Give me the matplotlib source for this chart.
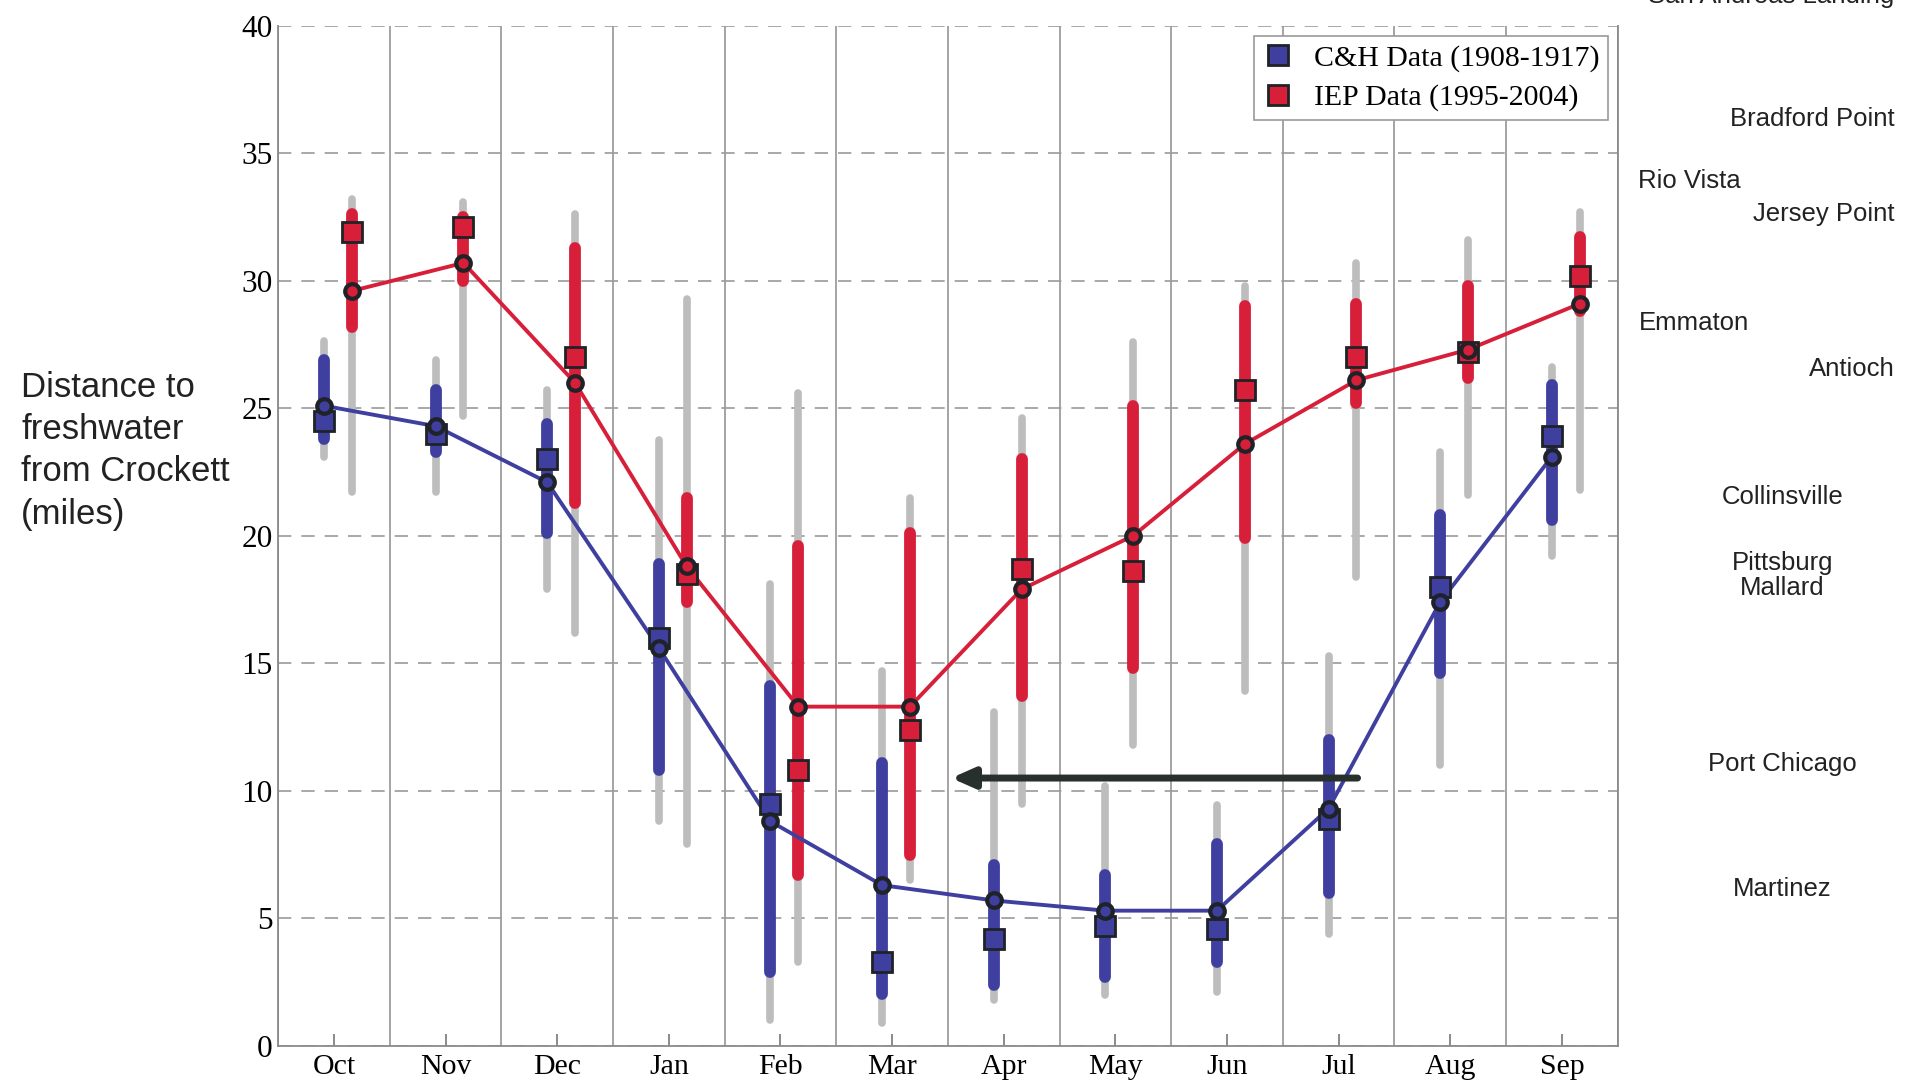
import matplotlib
matplotlib.use("Agg")
import matplotlib.pyplot as plt
from matplotlib.lines import Line2D
import numpy as np

# Months of the water year
months = ["Oct", "Nov", "Dec", "Jan", "Feb", "Mar", "Apr", "May", "Jun", "Jul", "Aug", "Sep"]

# C&H Data (1908-1917): distance to freshwater from Crockett (miles)
ch_min = [23.1, 21.7, 17.9, 8.8, 1.0, 0.9, 1.8, 2.0, 2.1, 4.4, 11.0, 19.2]
ch_max = [27.65, 26.9, 25.7, 23.75, 18.1, 14.7, 13.1, 10.2, 9.45, 15.3, 23.3, 26.6]
ch_q_lo = [23.8, 23.3, 20.1, 10.8, 2.9, 2.05, 2.4, 2.7, 3.3, 6.0, 14.6, 20.6]
ch_q_hi = [26.9, 25.7, 24.4, 18.9, 14.1, 11.1, 7.1, 6.7, 7.9, 12.0, 20.8, 25.9]
ch_mean = [24.5, 24.0, 23.0, 16.0, 9.5, 3.3, 4.2, 4.7, 4.6, 8.9, 18.0, 23.9]
ch_median = [25.1, 24.3, 22.1, 15.6, 8.8, 6.3, 5.7, 5.3, 5.3, 9.3, 17.4, 23.1]

# IEP Data (1995-2004)
iep_min = [21.7, 24.7, 16.2, 7.9, 3.3, 6.5, 9.5, 11.8, 13.9, 18.4, 21.6, 21.8]
iep_max = [33.2, 33.1, 32.6, 29.3, 25.6, 21.5, 24.6, 27.6, 29.8, 30.7, 31.6, 32.7]
iep_q_lo = [28.2, 30.0, 21.3, 17.4, 6.7, 7.5, 13.7, 14.8, 19.9, 25.2, 26.2, 28.8]
iep_q_hi = [32.6, 32.5, 31.3, 21.5, 19.6, 20.1, 23.0, 25.1, 29.0, 29.1, 29.8, 31.7]
iep_mean = [31.9, 32.1, 27.0, 18.5, 10.8, 12.4, 18.7, 18.6, 25.7, 27.0, 27.2, 30.2]
iep_median = [29.6, 30.7, 26.0, 18.8, 13.3, 13.3, 17.9, 20.0, 23.6, 26.1, 27.3, 29.1]

# Stations along the estuary (miles from Crockett)
stations = ["San Andreas Landing", "Bradford Point", "Rio Vista", "Jersey Point", "Emmaton",
            "Antioch", "Collinsville", "Pittsburg\nMallard", "Port Chicago", "Martinez"]
station_miles = [41.15, 36.36, 33.92, 32.62, 28.36, 26.54, 21.51, 18.45, 11.07, 6.13]

# Shift of the freshwater position marked by the arrow
shift_from = (9.17, 10.5)
shift_to = (5.53, 10.5)

BLUE = "#3f3f9f"
RED = "#d81f3a"
GRAY = "#bdbdbd"
EDGE = "#1f2226"

serif = ["Liberation Serif", "DejaVu Serif"]
sans = ["Liberation Sans", "DejaVu Sans"]

fig = plt.figure(figsize=(19.13, 10.86), dpi=100)
ax = fig.add_axes([0.1454, 0.037, 0.7002, 0.9393])

x = np.arange(len(months))


def draw_series(off, lo, hi, qlo, qhi, mean, med, color):
    xs = x + off
    ax.vlines(xs, lo, hi, color=GRAY, lw=5.5, capstyle="round", zorder=2)
    for xi, a, b in zip(xs, qlo, qhi):
        ax.plot([xi, xi], [a, b], color=color, lw=8.5, solid_capstyle="round", zorder=3)
    ax.plot(xs, med, color=color, lw=2.8, zorder=4)
    ax.plot(xs, mean, ls="none", marker="s", ms=15, mfc=color, mec=EDGE, mew=2.0, zorder=5)
    ax.plot(xs, med, ls="none", marker="o", ms=10.5, mfc=color, mec=EDGE, mew=3.0, zorder=6)


draw_series(-0.09, ch_min, ch_max, ch_q_lo, ch_q_hi, ch_mean, ch_median, BLUE)
draw_series(0.16, iep_min, iep_max, iep_q_lo, iep_q_hi, iep_mean, iep_median, RED)

ax.annotate("", xy=shift_to, xytext=shift_from,
            arrowprops=dict(arrowstyle="-|>,head_length=1.35,head_width=0.6",
                            lw=5, color="#27302d", shrinkA=0, shrinkB=0),
            zorder=7)

ax.set_xlim(-0.5, len(months) - 0.5)
ax.set_ylim(0, 40)
ax.set_xticks(x)
ax.set_xticklabels(months, fontfamily=serif, fontsize=21.5)
ax.set_yticks(np.arange(0, 41, 5))
ax.set_yticklabels([str(v) for v in range(0, 41, 5)], fontfamily=serif, fontsize=22.5)
ax.set_xticks(np.arange(-0.5, len(months), 1.0), minor=True)
ax.tick_params(axis="x", which="major", direction="in", length=9, width=1.2,
               color="#777777", pad=6)
ax.tick_params(axis="x", which="minor", length=0)
ax.tick_params(axis="y", which="major", direction="in", length=0, pad=4)

ax.grid(axis="y", which="major", color="#9a9a9a", lw=1.2, linestyle=(0, (8, 6)), zorder=0)
ax.grid(axis="x", which="minor", color="#8c8c8c", lw=1.1, linestyle="-", zorder=0)
ax.grid(axis="x", which="major", visible=False)
ax.set_axisbelow(True)

ax.spines["top"].set_visible(False)
for side in ("left", "bottom", "right"):
    ax.spines[side].set_color("#8a8a8a")
    ax.spines[side].set_linewidth(1.3)

handles = [
    Line2D([], [], ls="none", marker="s", ms=15, mfc=BLUE, mec=EDGE, mew=2.0),
    Line2D([], [], ls="none", marker="s", ms=15, mfc=RED, mec=EDGE, mew=2.0),
]
leg = ax.legend(handles, ["C&H Data (1908-1917)", "IEP Data (1995-2004)"],
                loc="upper right", bbox_to_anchor=(0.993, 0.99), borderaxespad=0,
                prop={"family": serif, "size": 21.5}, fancybox=False, framealpha=1,
                edgecolor="#9a9a9a", handletextpad=0.7, borderpad=0.3,
                labelspacing=0.4, handlelength=1.0)
leg.get_frame().set_linewidth(1.2)

# Station names on the right side
trans = ax.get_yaxis_transform()
layout = {
    "San Andreas Landing": (1.2068, "right"),
    "Bradford Point": (1.2068, "right"),
    "Rio Vista": (1.0155, "left"),
    "Jersey Point": (1.2068, "right"),
    "Emmaton": (1.0155, "left"),
    "Antioch": (1.2068, "right"),
    "Collinsville": (1.123, "center"),
    "Pittsburg\nMallard": (1.123, "center"),
    "Port Chicago": (1.123, "center"),
    "Martinez": (1.123, "center"),
}
for name, miles in zip(stations, station_miles):
    xa, ha = layout[name]
    ax.text(xa, miles, name, transform=trans, ha=ha, va="center",
            fontfamily=sans, fontsize=18.5, color="#222222",
            multialignment="center", linespacing=1.05, clip_on=False)

fig.text(0.011, 0.585, "Distance to\nfreshwater\nfrom Crockett\n(miles)",
         ha="left", va="center", fontfamily=sans, fontsize=25, color="#222222",
         linespacing=1.36)

fig.savefig("out.png", dpi=100, facecolor="white")
